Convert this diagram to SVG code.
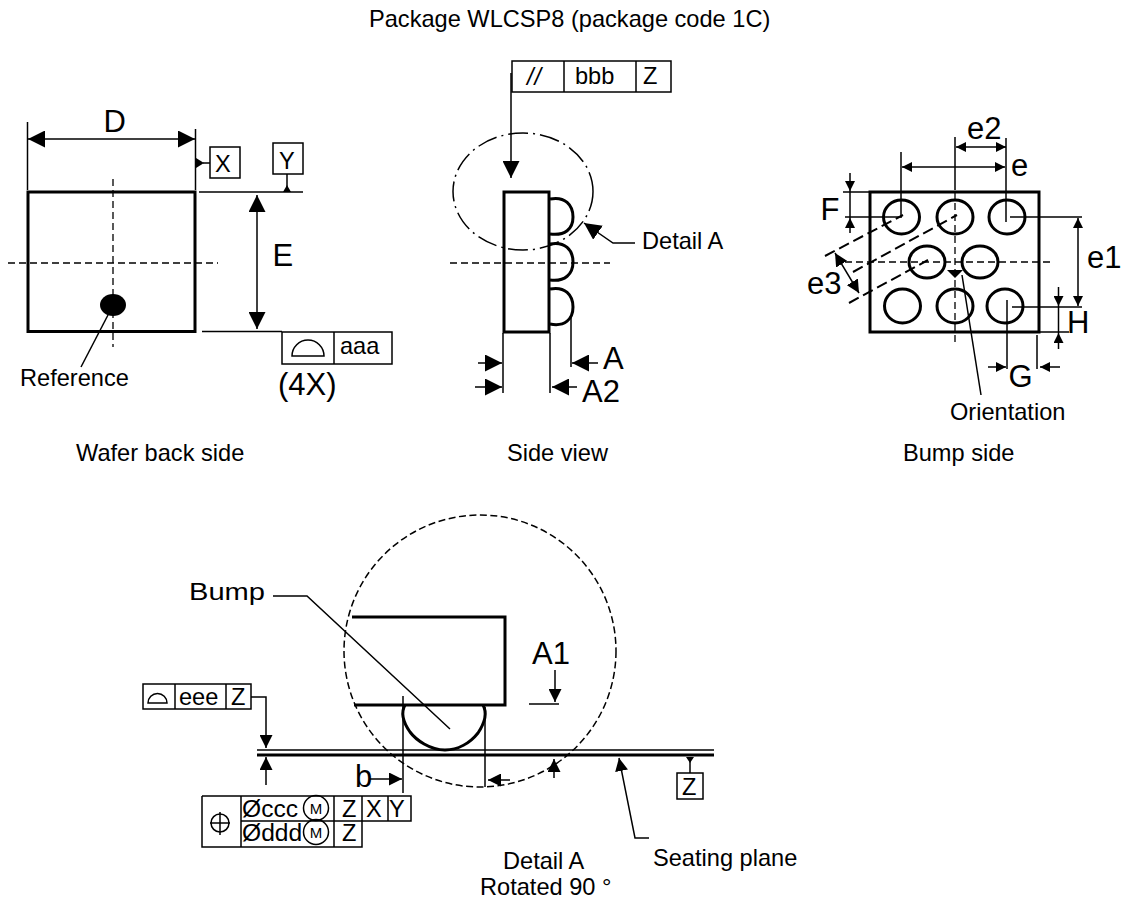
<svg xmlns="http://www.w3.org/2000/svg" width="1129" height="901" viewBox="0 0 1129 901">
<style>
text{font-family:"Liberation Sans",Arial,sans-serif;fill:#000;font-size:23.6px}
.b{font-size:31px}
line,path,rect,ellipse,circle,polyline{fill:none;stroke:#000;stroke-width:1.5}
.t{stroke-width:3}
.d{stroke-dasharray:7 4;stroke-width:1.3}
.k{stroke-width:2;stroke-dasharray:11 5}
.f{fill:#000;stroke:none}
</style>
<defs>
<marker id="a" viewBox="0 0 10 10" refX="10" refY="5" markerUnits="userSpaceOnUse" markerWidth="17" markerHeight="17" orient="auto-start-reverse"><path class="f" d="M0 0L10 5L0 10Z"/></marker>
<marker id="n" viewBox="0 0 10 10" refX="10" refY="5" markerUnits="userSpaceOnUse" markerWidth="13" markerHeight="13" orient="auto-start-reverse"><path class="f" d="M0 0L10 5L0 10Z"/></marker>
<marker id="s" viewBox="0 0 10 10" refX="10" refY="5" markerUnits="userSpaceOnUse" markerWidth="10" markerHeight="10" orient="auto-start-reverse"><path class="f" d="M0 0L10 5L0 10Z"/></marker>
</defs>
<text x="369" y="27">Package WLCSP8 (package code 1C)</text>
<g id="wafer-back-side">
<rect class="t" x="28" y="192" width="167" height="139.500"/>
<ellipse class="f" cx="113" cy="305" rx="13" ry="11"/>
<line class="d" x1="113" y1="179" x2="113" y2="347"/>
<line class="d" x1="8" y1="263" x2="218" y2="263"/>
<line x1="108" y1="315" x2="81" y2="367"/>
<text x="20" y="386">Reference</text>
<text x="76" y="461">Wafer back side</text>
</g>
<g id="datum-x"><rect x="210" y="147" width="30" height="31"/><text x="215" y="172">X</text></g>
<g id="datum-y"><rect x="273" y="143" width="30" height="31"/><text x="279" y="169">Y</text></g>
<g id="fcf-aaa">
<rect x="282" y="332" width="110" height="32"/><line x1="334" y1="332" x2="334" y2="364"/>
<path d="M292 356A16 16 0 0 1 324 356Z"/>
<text x="340" y="354">aaa</text>
<text x="278" y="395" class="b">(4X)</text>
</g>
<g id="side-view">
<rect class="t" x="504" y="192" width="45" height="140"/>
<path class="t" d="M550 199C565 196 573 205 573 217C573 229 565 236 550 234"/>
<path class="t" d="M550 244C565 241 573 250 573 262C573 274 565 282 550 280"/>
<path class="t" d="M550 289C565 286 573 295 573 307C573 319 565 327 550 324"/>
<ellipse cx="523" cy="191.500" rx="70" ry="58.500" stroke-dasharray="20 5 2 5" stroke-width="1.200"/>
<line class="d" x1="450" y1="263" x2="610" y2="263"/>
<text x="642" y="249">Detail A</text>
<text x="507" y="461">Side view</text>
</g>
<g id="fcf-bbb">
<rect x="512" y="61" width="159" height="31"/><line x1="564" y1="61" x2="564" y2="92"/><line x1="636" y1="61" x2="636" y2="92"/>
<text x="527" y="85" font-style="italic" letter-spacing="1">//</text><text x="575" y="84">bbb</text><text x="643" y="84">Z</text>
</g>
<g id="bump-side">
<rect class="t" x="870" y="192" width="169" height="140"/>
<ellipse class="t" cx="901.500" cy="217" rx="18" ry="17"/>
<ellipse class="t" cx="955" cy="217" rx="18" ry="17"/>
<ellipse class="t" cx="1007" cy="217" rx="18" ry="17"/>
<ellipse class="t" cx="927" cy="262" rx="18" ry="16"/>
<ellipse class="t" cx="980" cy="262" rx="18" ry="16"/>
<ellipse class="t" cx="902.500" cy="306" rx="18" ry="17"/>
<ellipse class="t" cx="955" cy="306" rx="18" ry="17"/>
<ellipse class="t" cx="1005" cy="306" rx="18" ry="17"/>
<line class="d" x1="955" y1="192" x2="955" y2="342"/>
<line class="d" x1="845" y1="262" x2="1050" y2="262"/>
<line class="k" x1="825" y1="256" x2="903" y2="215"/>
<line class="k" x1="853" y1="272" x2="957" y2="215"/>
<line class="k" x1="849" y1="303" x2="928" y2="260"/>
<path class="f" d="M947 270H963L955 278Z"/>
<line x1="962" y1="275" x2="981" y2="395"/>
<text x="950" y="420">Orientation</text>
<text x="903" y="461">Bump side</text>
</g>
<g id="detail-a">
<path class="t" d="M352 617H505V705H354"/>
<path class="t" d="M405 705C401 712 403 722 410 732C416 740 430 750 445 750C458 750 470 743 478 733C484 724 488 714 483 705"/>
<circle cx="480" cy="651" r="136" stroke-dasharray="7 3.500" stroke-width="1.200"/>
<line x1="257" y1="750" x2="714" y2="750"/>
<line class="t" x1="257" y1="755" x2="714" y2="755"/>
<text x="189" y="600" textLength="76" lengthAdjust="spacingAndGlyphs">Bump</text>
<text x="653" y="866">Seating plane</text>
<text x="503" y="869">Detail A</text>
<text x="480" y="895">Rotated 90 °</text>
</g>
<g id="datum-z"><rect x="677" y="773" width="26" height="26"/><text x="682" y="795">Z</text></g>
<g id="fcf-eee">
<rect x="143" y="684" width="108" height="25"/><line x1="175" y1="684" x2="175" y2="709"/><line x1="226" y1="684" x2="226" y2="709"/>
<path d="M148 703A9.500 9.500 0 0 1 167 703Z"/>
<text x="179" y="705">eee</text><text x="231" y="705">Z</text>
</g>
<g id="fcf-ccc-ddd">
<path d="M202 796H411V821H241M241 796V847M202 796V847H362V821M334 796V847M388 796V821M362 796V821"/>
<circle cx="220" cy="823" r="9"/><line x1="210" y1="823" x2="230" y2="823"/><line x1="220" y1="812" x2="220" y2="835"/>
<text x="242" y="817" style="font-size:24.6px">Øccc</text><text x="242" y="841" style="font-size:24.6px">Øddd</text>
<circle cx="316" cy="808" r="12.500"/><circle cx="316" cy="832" r="12.500"/>
<text x="316" y="813.500" text-anchor="middle" style="font-size:15px">M</text><text x="316" y="837.500" text-anchor="middle" style="font-size:15px">M</text>
<text x="342" y="817">Z</text><text x="366" y="817">X</text><text x="389" y="817">Y</text><text x="342" y="841">Z</text>
</g>
<g id="connectors">
<line x1="27.500" y1="122" x2="27.500" y2="190"/><line x1="195.500" y1="129" x2="195.500" y2="190"/>
<line x1="28" y1="139" x2="195" y2="139" marker-start="url(#a)" marker-end="url(#a)"/>
<line x1="203" y1="163" x2="210" y2="163"/><path class="f" d="M196 158V168L204 163Z"/>
<line x1="287" y1="174" x2="287" y2="192"/><path class="f" d="M283 192H291L287 185Z"/>
<line x1="199" y1="192" x2="303" y2="192"/><line x1="202" y1="331.500" x2="282" y2="331.500"/>
<line x1="257" y1="195" x2="257" y2="329" marker-start="url(#a)" marker-end="url(#a)"/>
<line x1="511" y1="73" x2="511" y2="178" marker-end="url(#a)"/>
<polyline points="635,243 613,243 584,223" marker-end="url(#a)"/>
<line x1="503" y1="333" x2="503" y2="393"/><line x1="550" y1="333" x2="550" y2="393"/><line x1="571" y1="317" x2="571" y2="367"/>
<line x1="598" y1="363" x2="572" y2="363" marker-end="url(#a)"/>
<line x1="478" y1="363" x2="502" y2="363" marker-end="url(#a)"/>
<line x1="475" y1="387" x2="502" y2="387" marker-end="url(#a)"/>
<line x1="577" y1="387" x2="552" y2="387" marker-end="url(#a)"/>
<line x1="901" y1="152" x2="901" y2="217"/><line x1="955" y1="137" x2="955" y2="190"/><line x1="1006" y1="138" x2="1006" y2="222"/>
<line x1="956" y1="147" x2="1006" y2="147" marker-start="url(#s)" marker-end="url(#s)"/>
<line x1="902" y1="167" x2="1005" y2="167" marker-start="url(#s)" marker-end="url(#s)"/>
<line x1="843" y1="192" x2="870" y2="192"/><line x1="845" y1="217" x2="902" y2="217"/>
<line x1="850" y1="173" x2="850" y2="191" marker-end="url(#s)"/><line x1="850" y1="233" x2="850" y2="218" marker-end="url(#s)"/><line x1="850" y1="191" x2="850" y2="218"/>
<line x1="1010" y1="217" x2="1082" y2="217"/><line x1="1012" y1="307" x2="1082" y2="307"/>
<line x1="1078" y1="218" x2="1078" y2="306" marker-start="url(#s)" marker-end="url(#s)"/>
<line x1="1039" y1="332" x2="1069" y2="332"/>
<line x1="1058.500" y1="287" x2="1058.500" y2="306" marker-end="url(#s)"/><line x1="1058.500" y1="349" x2="1058.500" y2="333" marker-end="url(#s)"/><line x1="1058.500" y1="306" x2="1058.500" y2="333"/>
<line x1="1007" y1="300" x2="1007" y2="369"/><line x1="1037" y1="335" x2="1037" y2="369"/>
<line x1="988" y1="367" x2="1006" y2="367" marker-end="url(#s)"/><line x1="1060" y1="367" x2="1040" y2="367" marker-end="url(#s)"/>
<line x1="835" y1="253" x2="859" y2="293" marker-start="url(#n)" marker-end="url(#n)"/>
<polyline points="273,596 307,596 450,729"/>
<line x1="403" y1="696" x2="403" y2="793"/><line x1="485" y1="707" x2="485" y2="787"/>
<line x1="370" y1="779" x2="402" y2="779" marker-end="url(#n)"/>
<line x1="510" y1="780" x2="488" y2="780" marker-end="url(#n)"/>
<line x1="555" y1="670" x2="555" y2="702" marker-end="url(#n)"/><line x1="529" y1="704" x2="559" y2="704"/>
<line x1="554" y1="778" x2="554" y2="759" marker-end="url(#n)"/>
<polyline points="649,838 635,838 619,758" marker-end="url(#n)"/>
<line x1="690" y1="757" x2="690" y2="773"/><path class="f" d="M686 757H694L690 763Z"/>
<polyline points="251,697 266,697 266,748" marker-end="url(#n)"/>
<line x1="266" y1="785" x2="266" y2="757" marker-end="url(#n)"/>
</g>
<g id="dimension-labels">
<text x="103.500" y="132" class="b">D</text>
<text x="272.500" y="266" class="b">E</text>
<text x="603" y="369" class="b">A</text>
<text x="582" y="402" class="b">A2</text>
<text x="967" y="139" class="b">e2</text>
<text x="1011" y="176" class="b">e</text>
<text x="820.500" y="220" class="b">F</text>
<text x="1087" y="268" class="b">e1</text>
<text x="807" y="294" class="b">e3</text>
<text x="1067" y="333" class="b">H</text>
<text x="1008.500" y="387" class="b">G</text>
<text x="532" y="664" class="b">A1</text>
<text x="355" y="787" class="b">b</text>
</g>
</svg>
